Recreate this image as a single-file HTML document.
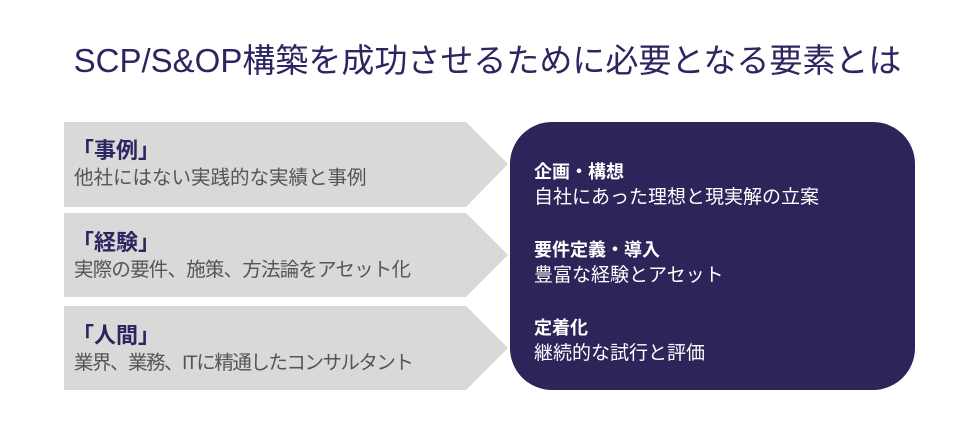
<!DOCTYPE html>
<html><head><meta charset="utf-8"><style>
body{margin:0;width:975px;height:440px;background:#fff;font-family:"Liberation Sans","Noto Sans CJK JP",sans-serif;position:relative;overflow:hidden}
.t{position:absolute;left:0;width:975px;top:34px;text-align:center;font-size:33px;color:#2b2660}
.h{position:absolute;left:72px;font-size:22px;font-weight:bold;color:#2b2660}
.s{position:absolute;left:74px;font-size:19.5px;color:#555;white-space:nowrap}
.b{position:absolute;left:534px;font-size:19px;color:#fff}
.bb{font-weight:bold;font-size:18px}
</style></head><body>
<div class="t">SCP/S&amp;OP構築を成功させるために必要となる要素とは</div>
<svg width="975" height="440" style="position:absolute;left:0;top:0">
<polygon points="64,122 466,122 508,164 466,207 64,207" fill="#d9d9d9"/>
<polygon points="64,213 466,213 508,255 466,297 64,297" fill="#d9d9d9"/>
<polygon points="64,306 466,306 508,348 466,390 64,390" fill="#d9d9d9"/>
<rect x="510" y="122" width="405" height="268" rx="42" fill="#2e2459"/>
</svg>
<div class="h" style="top:133px">「事例」</div>
<div class="s" style="top:161px">他社にはない実践的な実績と事例</div>
<div class="h" style="top:225px">「経験」</div>
<div class="s" style="top:253px;letter-spacing:-0.8px">実際の要件、施策、方法論をアセット化</div>
<div class="h" style="top:318px">「人間」</div>
<div class="s" style="top:346px;letter-spacing:-1.5px">業界、業務、ITに精通したコンサルタント</div>
<div class="b bb" style="top:158px">企画・構想</div>
<div class="b" style="top:182px">自社にあった理想と現実解の立案</div>
<div class="b bb" style="top:236px">要件定義・導入</div>
<div class="b" style="top:260px">豊富な経験とアセット</div>
<div class="b bb" style="top:314px">定着化</div>
<div class="b" style="top:338px">継続的な試行と評価</div>
</body></html>
